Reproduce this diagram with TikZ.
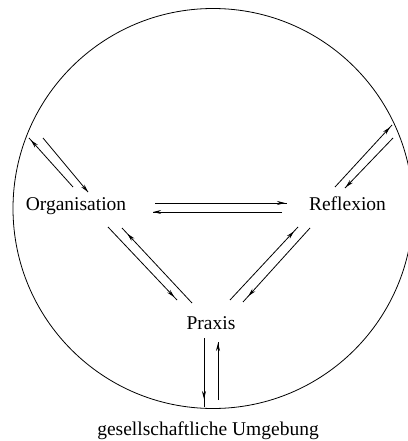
\documentclass[tikz,border=0pt]{standalone}
\usepackage{fontspec}
\setmainfont{Liberation Serif}
\usetikzlibrary{arrows.meta,decorations.markings}
\begin{document}
\begin{tikzpicture}[x=1pt,y=-1pt,
  lbl/.style={font=\fontsize{19.5}{22}\selectfont, inner sep=0pt, anchor=base},
  flow/.style={line width=0.8pt, postaction={decorate},
    decoration={markings, mark=at position #1 with {\arrow{Stealth[length=8pt,width=4pt]}}}},
  flow/.default=-2pt,
  ring/.style={line width=0.8pt}]
\useasboundingbox (0,0) rectangle (407,441);
\draw[ring] (213,208.5) circle[radius=200];
% labels
\node[lbl] (org) at (76,210) {Organisation};
\node[lbl] (ref) at (347.5,210) {Reflexion};
\node[lbl] (pra) at (211,329) {Praxis};
\node[lbl] (umg) at (208,435) {gesellschaftliche Umgebung};
% endpoints
\coordinate (h1a) at (155,203); \coordinate (h1b) at (287,203);
\coordinate (h2a) at (282,212); \coordinate (h2b) at (153,212);
\coordinate (ul1a) at (73,187); \coordinate (ul1b) at (29,138);
\coordinate (ul2a) at (43,138); \coordinate (ul2b) at (88,192);
\coordinate (ur1a) at (335,187); \coordinate (ur1b) at (392,125);
\coordinate (ur2a) at (393,138); \coordinate (ur2b) at (345,188);
\coordinate (op1a) at (108,227); \coordinate (op1b) at (177,300);
\coordinate (op2a) at (192,303); \coordinate (op2b) at (122,228);
\coordinate (rp1a) at (230,300); \coordinate (rp1b) at (298,227);
\coordinate (rp2a) at (310,228); \coordinate (rp2b) at (243,302);
\coordinate (pu1a) at (204,338); \coordinate (pu1b) at (204,407);
\coordinate (pu2a) at (218,400); \coordinate (pu2b) at (218,342);
% connectors
\draw[flow] (h1a) -- (h1b);
\draw[flow=-0.1pt] (h2a) -- (h2b);
\draw[flow=-3pt] (ul1a) -- (ul1b);
\draw[flow=-0.1pt] (ul2a) -- (ul2b);
\draw[flow=-3pt] (ur1a) -- (ur1b);
\draw[flow=-1pt] (ur2a) -- (ur2b);
\draw[flow=-4pt] (op1a) -- (op1b);
\draw[flow=-8pt] (op2a) -- (op2b);
\draw[flow=-6pt] (rp1a) -- (rp1b);
\draw[flow=-8pt] (rp2a) -- (rp2b);
\draw[flow=-8pt] (pu1a) -- (pu1b);
\draw[flow=-1pt] (pu2a) -- (pu2b);
\end{tikzpicture}
\end{document}
